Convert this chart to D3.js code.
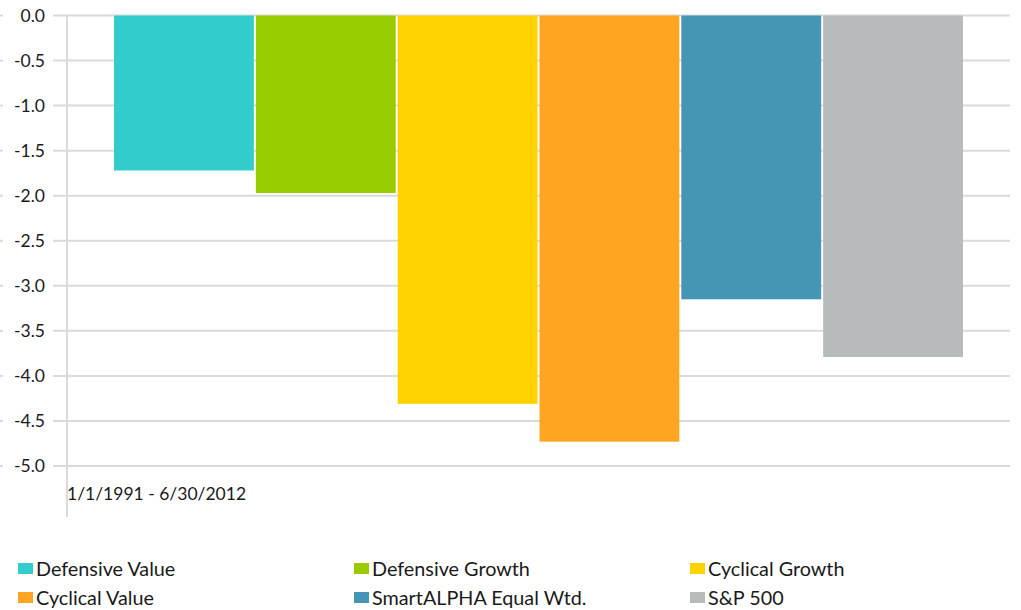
<!DOCTYPE html>
<meta charset="utf-8">
<style>
body { margin: 0; background: #fff; }
text { font-family: Lato, "Open Sans", sans-serif; fill: #1a1a1a; }
</style>
<svg width="1021" height="610"></svg>
<script src="https://d3js.org/d3.v7.min.js"></script>
<script>

var period = ["1/1/1991 - 6/30/2012"];
var series = ["Defensive Value", "Defensive Growth", "Cyclical Growth",
              "Cyclical Value", "SmartALPHA Equal Wtd.", "S&P 500"];
var values = [-1.72, -1.97, -4.31, -4.73, -3.15, -3.79];
var colors = ["#33cccc", "#99cc00", "#ffd200", "#ffa522", "#4595b5", "#b8bbbc"];
var yTicks = [0, -0.5, -1, -1.5, -2, -2.5, -3, -3.5, -4, -4.5, -5];

var svg = d3.select("svg");

var y = d3.scaleLinear().domain([0, -5]).range([15.5, 466]);

var x0 = d3.scaleBand().domain(period).range([67, 1010]).paddingOuter(0.0554);
var x1 = d3.scaleBand().domain(series).range([0, x0.bandwidth()]).paddingInner(0.014);

// gridlines
var grid = svg.append("g");
grid.selectAll("line")
    .data(yTicks)
    .enter().append("line")
    .attr("x1", 53).attr("x2", 1010)
    .attr("y1", function(d) { return y(d); })
    .attr("y2", function(d) { return y(d); })
    .attr("stroke", "#dadada")
    .attr("stroke-width", 2);

// little tick marks on the far left
grid.selectAll(".tk")
    .data(yTicks)
    .enter().append("line")
    .attr("class", "tk")
    .attr("x1", 0).attr("x2", 3)
    .attr("y1", function(d) { return y(d); })
    .attr("y2", function(d) { return y(d); })
    .attr("stroke", "#dadada")
    .attr("stroke-width", 2);

// y axis labels (plain hyphen, not the unicode minus)
var fmt = d3.format(".1f");
var yAxis = svg.append("g")
    .attr("transform", "translate(45,0)")
    .call(d3.axisLeft(y).tickValues(yTicks).tickSize(0).tickPadding(0)
      .tickFormat(function(d) { return fmt(d).replace("\u2212", "-"); }));
yAxis.select(".domain").remove();
yAxis.selectAll("text")
    .style("font-family", "Lato, 'Open Sans', sans-serif")
    .style("font-size", "17.5px")
    .attr("fill", "#1a1a1a");

// vertical axis line
svg.append("line")
    .attr("x1", 67).attr("x2", 67)
    .attr("y1", 15).attr("y2", 517)
    .attr("stroke", "#dadada")
    .attr("stroke-width", 2);

// bars
svg.append("g")
    .selectAll("rect")
    .data(series)
    .enter().append("rect")
    .attr("x", function(d) { return x0(period[0]) + x1(d); })
    .attr("width", x1.bandwidth())
    .attr("y", y(0))
    .attr("height", function(d, i) { return y(values[i]) - y(0); })
    .attr("fill", function(d, i) { return colors[i]; });

// category label
svg.append("text")
    .attr("x", 67)
    .attr("y", 500)
    .style("font-size", "17.5px")
    .text(period[0]);

// legend
var legend = svg.append("g")
    .selectAll("g")
    .data(series)
    .enter().append("g")
    .attr("transform", function(d, i) {
        return "translate(" + (18 + (i % 3) * 336) + "," + (563 + Math.floor(i / 3) * 29) + ")";
    });

legend.append("rect")
    .attr("width", 15)
    .attr("height", 11)
    .attr("fill", function(d, i) { return colors[i]; });

legend.append("text")
    .attr("x", 18)
    .attr("y", 13)
    .style("font-size", "19.8px")
    .text(function(d) { return d; });

</script>
